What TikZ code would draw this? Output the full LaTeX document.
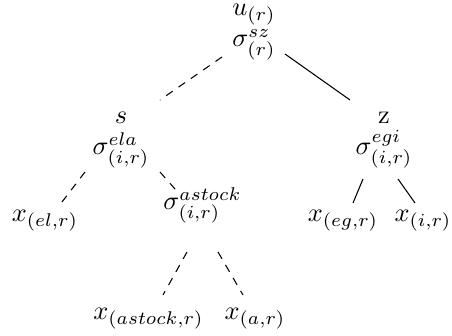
\documentclass[tikz,border=0pt]{standalone}
\usetikzlibrary{calc}
\begin{document}
\begin{tikzpicture}[x=0.38pt,y=-0.38pt,
  tn/.style={anchor=base,inner sep=0pt,align=center},
  dedge/.style={dashed,dash pattern=on 3pt off 2.7pt},
  sedge/.style={}]
\useasboundingbox (0,0) rectangle (452,336);
\node[tn] (root) at (254,47) {$u_{(r)}$\\$\sigma^{sz}_{(r)}$};
\node[tn] (ela) at (121,155) {$s$\\$\sigma^{ela}_{(i,r)}$};
\node[tn] (egi) at (384,155) {z\\$\sigma^{egi}_{(i,r)}$};
\node[tn] (xel) at (45,222) {$x_{(el,r)}$};
\node[tn] (astock) at (202.5,210) {$\sigma^{astock}_{(i,r)}$};
\node[tn] (xeg) at (343,222) {$x_{(eg,r)}$};
\node[tn] (xi) at (423,222) {$x_{(i,r)}$};
\node[tn] (xastock) at (148.5,320) {$x_{(astock,r)}$};
\node[tn] (xa) at (255,320) {$x_{(a,r)}$};
\draw[dedge] ($(root.base)+(-32,10)$) -- ($(ela.base)+(39,-55)$);
\draw[sedge] ($(root.base)+(31,7)$) -- ($(egi.base)+(-34,-55)$);
\draw[dedge] ($(ela.base)+(-36,17)$) -- ($(xel.base)+(17,-20)$);
\draw[dedge] ($(ela.base)+(39,17)$) -- ($(astock.base)+(-24,-17)$);
\draw[sedge] ($(egi.base)+(-21,24)$) -- ($(xeg.base)+(10,-19)$);
\draw[sedge] ($(egi.base)+(14,24)$) -- ($(xi.base)+(-8,-19)$);
\draw[dedge] ($(astock.base)+(-15.5,42)$) -- ($(xastock.base)+(14.5,-25)$);
\draw[dedge] ($(astock.base)+(15.5,42)$) -- ($(xa.base)+(-12,-25)$);
\end{tikzpicture}
\end{document}
